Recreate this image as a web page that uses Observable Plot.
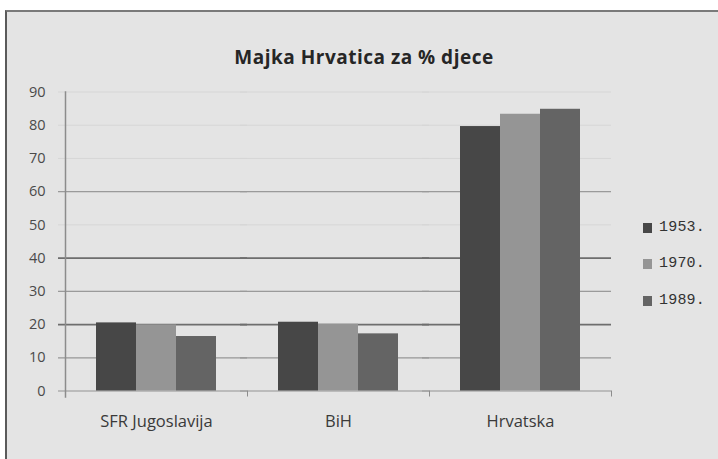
<!DOCTYPE html>
<html><head><meta charset="utf-8">
<script src="https://cdn.jsdelivr.net/npm/d3@7"></script>
<script src="https://cdn.jsdelivr.net/npm/@observablehq/plot@0.6"></script>
<style>
html,body{margin:0;padding:0;background:#fff;width:718px;height:459px;overflow:hidden;}
#frame{position:absolute;left:5px;top:10px;width:800px;height:500px;background:#e4e4e4;border-top:2px solid #7a7a7a;border-left:2px solid #5a5a5a;}
#chart{position:absolute;left:0;top:0;}
#title{position:absolute;left:0;width:728px;top:44px;line-height:1;text-align:center;font:bold 19px "Open Sans";color:#262626;letter-spacing:0.5px;white-space:nowrap;}
.lg{position:absolute;left:643px;font:15px "Liberation Mono";color:#333;display:flex;align-items:center;letter-spacing:0.2px;line-height:18px;}
.lg span.sw{display:inline-block;width:9px;height:10px;margin-right:7px;}
</style></head>
<body>
<div id="frame"></div>
<div id="chart"></div>
<div id="title">Majka Hrvatica za % djece</div>
<div id="legend"></div>
<script>
const categories = ["SFR Jugoslavija", "BiH", "Hrvatska"];
const years = ["1953.", "1970.", "1989."];
const v1953 = [20.5, 20.7, 79.6];
const v1970 = [19.9, 20.1, 83.3];
const v1989 = [16.4, 17.2, 84.8];
const yTicks = [0, 10, 20, 30, 40, 50, 60, 70, 80, 90];
const colors = ["#474747", "#959595", "#646464"];

// appearance of the gridlines in the picture (resampling artefacts)
const gridMedium = [0, 10, 30, 60];
const gridStrong = [20, 40];

const series = [v1953, v1970, v1989];
const data = categories.flatMap((c, i) => years.map((y, j) => ({category: c, year: y, value: series[j][i]})));

const W = 718, H = 459, mL = 65, mR = 107;
const step = (W - mL - mR) / categories.length;

const plot = Plot.plot({
  width: W, height: H,
  marginLeft: mL, marginRight: mR, marginTop: 91.5, marginBottom: 68.5,
  style: {background: "transparent", fontFamily: "'Open Sans'", fontSize: "12px", color: "#3a3a3a", overflow: "visible"},
  fx: {domain: categories, padding: 0, label: null},
  x: {domain: years, paddingInner: 0, paddingOuter: 0.7525, axis: null},
  y: {domain: [0, 90], label: null},
  color: {domain: years, range: colors},
  marks: [
    Plot.ruleY(yTicks, {stroke: "#d6d6d6", insetLeft: -7}),
    Plot.ruleY(gridMedium, {stroke: "#9a9a9a", strokeWidth: 1.2, insetLeft: -7}),
    Plot.ruleY(gridStrong, {stroke: "#6e6e6e", strokeWidth: 1.8, insetLeft: -7}),
    Plot.frame({anchor: "left", facetAnchor: "left", stroke: "#8c8c8c", strokeWidth: 1.5, insetBottom: -6}),
    Plot.barY(data, {fx: "category", x: "year", y: "value", fill: "year"}),
    Plot.axisY({ticks: yTicks, tickSize: 0, tickPadding: 20, label: null, fontSize: 14.5, fill: "#4a4a4a"}),
    Plot.axisFx({anchor: "bottom", tickSize: 0, tickPadding: 24, label: null, fontSize: 16.5, fill: "#3a3a3a"}),
    Plot.axisFx({anchor: "bottom", tickSize: 6, tickFormat: () => "", label: null, dx: step / 2, stroke: "#8c8c8c"})
  ]
});
document.getElementById("chart").appendChild(plot);

const legend = document.getElementById("legend");
const legendTops = [227.5, 264, 300.5];
years.forEach((y, i) => {
  const d = document.createElement("div");
  d.className = "lg";
  d.style.top = (legendTops[i] - 9) + "px";
  d.innerHTML = `<span class="sw" style="background:${colors[i]}"></span>${y}`;
  legend.appendChild(d);
});
</script>
</body></html>
